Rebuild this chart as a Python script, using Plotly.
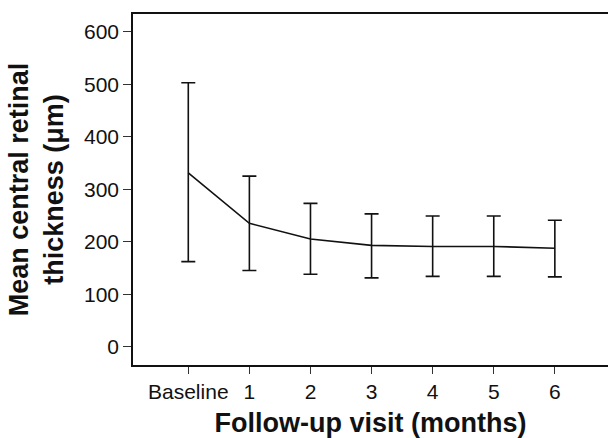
import plotly.graph_objects as go

categories = ["Baseline", "1", "2", "3", "4", "5", "6"]
visit_index = [0, 1, 2, 3, 4, 5, 6]
mean_thickness = [331, 235, 205, 193, 191, 191, 187.5]
upper_limit = [503, 325, 273, 253, 249, 249, 241]
lower_limit = [162, 145, 138, 131, 134, 134, 133]

err_plus = [u - m for u, m in zip(upper_limit, mean_thickness)]
err_minus = [m - l for m, l in zip(mean_thickness, lower_limit)]

FONT = "Arial, Liberation Sans, sans-serif"

fig = go.Figure()
fig.add_trace(go.Scatter(
    x=visit_index, y=mean_thickness, mode="lines",
    line=dict(color="#111111", width=1.6),
    error_y=dict(type="data", symmetric=False, array=err_plus, arrayminus=err_minus,
                 color="#111111", thickness=1.6, width=7),
    showlegend=False, hoverinfo="skip",
))

fig.update_layout(
    width=608, height=438,
    margin=dict(l=133, r=0, t=14, b=73, autoexpand=False),
    plot_bgcolor="white", paper_bgcolor="white",
    font=dict(family=FONT, color="#111111"),
)
fig.update_xaxes(
    range=[-0.905, 6.87], tickmode="array", tickvals=visit_index, ticktext=categories,
    showline=True, linecolor="#111111", linewidth=1.6, mirror=True,
    ticks="outside", ticklen=7, tickwidth=1, tickcolor="#333333",
    showgrid=False, zeroline=False, automargin=False,
    tickfont=dict(size=21, family=FONT, color="#111111"),
    title=dict(text="Follow-up visit (months)", font=dict(size=27, family=FONT, weight="bold", color="#111111"),
               standoff=17),
)
fig.update_yaxes(
    range=[-35, 634], tickvals=[0, 100, 200, 300, 400, 500, 600],
    showline=True, linecolor="#111111", linewidth=1.6, mirror=False,
    ticks="outside", ticklen=8, tickwidth=1, tickcolor="#333333",
    showgrid=False, zeroline=False, automargin=False,
    tickfont=dict(size=21, family=FONT, color="#111111"),
    title=dict(text="Mean central retinal<br>thickness (μm)", font=dict(size=27, family=FONT, weight="bold", color="#111111"),
               standoff=12),
)

fig.write_html("out.html", config={"displayModeBar": False},
               post_script="document.body.style.margin='0';document.body.style.overflow='hidden';")
